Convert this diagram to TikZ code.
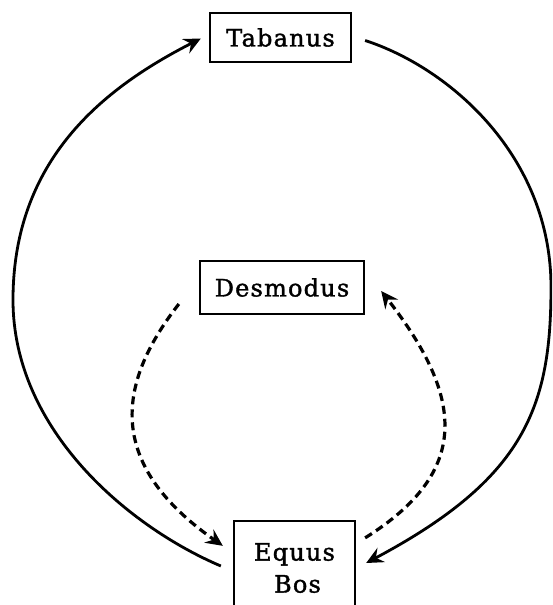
\documentclass[tikz,border=0pt]{standalone}
\usepackage{fontspec}
\newfontfamily\labelfont[LetterSpace=5,FakeBold=1.5]{DejaVu Serif}
\usetikzlibrary{arrows.meta}
\begin{document}
\begin{tikzpicture}[x=1pt,y=-1pt,
  box/.style={draw, line width=2.3pt, inner sep=0pt, align=center,
    font={\labelfont\fontsize{24}{32}\selectfont}},
  tipstyle/.style={-{Stealth[length=17pt,width=16pt,inset=6pt]}},
  solidarrow/.style={line width=2.8pt, tipstyle},
  dasharrow/.style={line width=3.2pt, dash pattern=on 8pt off 5pt, tipstyle}]
\useasboundingbox (0,0) rectangle (552,605);
\clip (0,0) rectangle (552,605);
\node[box, minimum width=141pt, minimum height=49pt] (tab) at (280.5,37.5) {Tabanus};
\node[box, minimum width=164pt, minimum height=53pt] (des) at (282,287.5) {Desmodus};
\node[box, minimum width=121pt, minimum height=94pt] (eq) at (294.5,568) {Equus\\\hspace*{6pt}Bos};
\coordinate (L) at (13,300);
\coordinate (R) at (551,287);
% big cycle
\draw[solidarrow] ([xshift=-12pt,yshift=2pt]eq.west)
  .. controls +(157:100pt) and +(0,130) .. (L)
  .. controls +(0,-140) and +(207:110pt) .. ([xshift=-8pt,yshift=-1pt]tab.west);
\draw[solidarrow] ([xshift=13pt,yshift=-3pt]tab.east)
  .. controls +(-18:90pt) and +(0,-130) .. (R)
  .. controls +(0,120) and +(28:180pt) .. ([xshift=10pt,yshift=5pt]eq.east);
% dashed cycle
\draw[dasharrow] ([xshift=-20pt,yshift=-16.5pt]des.west)
  .. controls +(232:105pt) and +(145:140pt) .. ([xshift=-10pt,yshift=-26pt]eq.north west);
\draw[dasharrow] ([xshift=9pt,yshift=-18pt]eq.north east)
  .. controls +(32:125pt) and +(308:135pt) .. ([xshift=16pt,yshift=-3.5pt]des.east);
\end{tikzpicture}
\end{document}
